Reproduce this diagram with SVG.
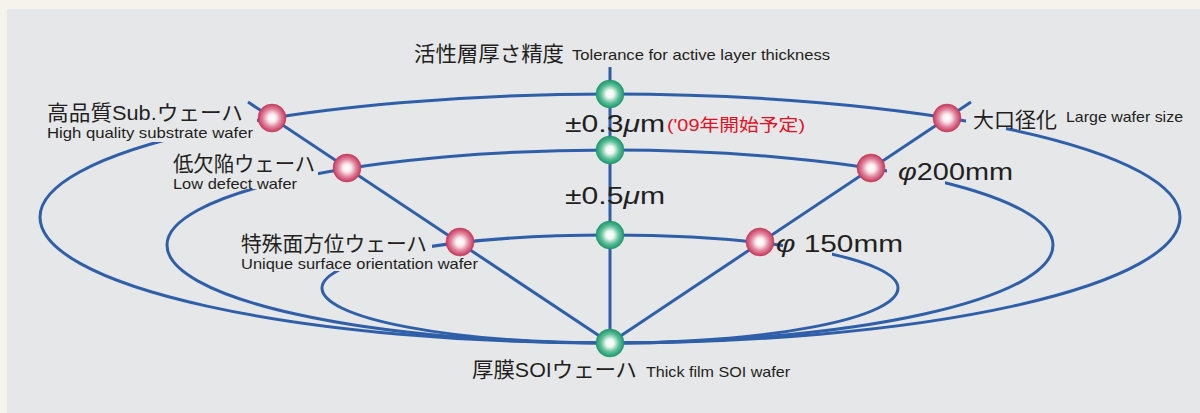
<svg xmlns="http://www.w3.org/2000/svg" width="1200" height="413" viewBox="0 0 1200 413">
<style>
.ln{fill:none;stroke:#2f5fa8;stroke-width:3}
text{font-family:"Liberation Sans","Noto Sans CJK JP",sans-serif;fill:#231f20}
.jp{font-size:21px}
.en{font-size:14.5px}
.big{font-size:24px}
.red{fill:#e60f22;font-size:17px}
.it{font-style:italic}
.rn{fill:url(#gr);stroke:#c4385b;stroke-width:0.5}
.gn{fill:url(#gg);stroke:#1e966c;stroke-width:0.5}
</style>
<defs>
<radialGradient id="gr" cx="0.5" cy="0.5" r="0.5">
<stop offset="0" stop-color="#ffffff"/>
<stop offset="0.28" stop-color="#fbeef2"/>
<stop offset="0.65" stop-color="#e0819b"/>
<stop offset="1" stop-color="#c4385b"/>
</radialGradient>
<radialGradient id="gg" cx="0.5" cy="0.5" r="0.5">
<stop offset="0" stop-color="#ffffff"/>
<stop offset="0.28" stop-color="#eef8f4"/>
<stop offset="0.65" stop-color="#5dbf98"/>
<stop offset="1" stop-color="#1e966c"/>
</radialGradient>
<mask id="gaps" maskUnits="userSpaceOnUse" x="0" y="0" width="1200" height="413">
<rect x="0" y="0" width="1200" height="413" fill="#fff"/>
<rect x="40" y="95" width="217" height="47" fill="#000"/>
<rect x="966" y="95" width="40" height="35" fill="#000"/>
<rect x="170" y="150" width="148" height="39" fill="#000"/>
<rect x="887" y="160" width="58" height="40" fill="#000"/>
<rect x="300" y="225" width="132" height="46" fill="#000"/>
<rect x="783" y="230" width="49" height="35" fill="#000"/>
</mask>
</defs>
<rect x="0" y="0" width="1200" height="413" fill="#f6f3ec"/>
<rect x="7" y="9" width="1193" height="404" fill="#e6e7e9"/>
<g id="connectors">
<g mask="url(#gaps)">
<path class="ln" d="M40,217 A570,123 0 0 1 1180,217 A570,126 0 0 1 40,217 Z"/>
<path class="ln" d="M167,245 A443,95 0 0 1 1053,245 A443,98 0 0 1 167,245 Z"/>
<path class="ln" d="M322,288 A288,53 0 0 1 898,288 A288,55 0 0 1 322,288 Z"/>
</g>
<line class="ln" x1="248" y1="102" x2="610" y2="343"/>
<line class="ln" x1="971" y1="102" x2="610" y2="343"/>
<line class="ln" x1="610" y1="67" x2="610" y2="343"/>
</g>
<g id="tol-title">
<text class="jp" x="414" y="61" textLength="150" lengthAdjust="spacingAndGlyphs">活性層厚さ精度</text>
<text class="en" x="572" y="60" textLength="258" lengthAdjust="spacingAndGlyphs">Tolerance for active layer thickness</text>
</g>
<g id="node-03">
<circle class="gn" cx="610" cy="94" r="14"/>
<text class="big" x="565" y="132" textLength="100" lengthAdjust="spacingAndGlyphs">±0.3<tspan class="it">μ</tspan>m</text>
<text class="red" x="667" y="131" textLength="138" lengthAdjust="spacingAndGlyphs">('09年開始予定)</text>
</g>
<g id="node-05">
<circle class="gn" cx="610" cy="150" r="14"/>
<text class="big" x="565" y="204" textLength="100" lengthAdjust="spacingAndGlyphs">±0.5<tspan class="it">μ</tspan>m</text>
</g>
<g id="node-center3">
<circle class="gn" cx="610" cy="235" r="14"/>
</g>
<g id="node-soi">
<circle class="gn" cx="610" cy="343" r="14"/>
<text class="jp" x="472" y="377" textLength="165" lengthAdjust="spacingAndGlyphs">厚膜SOIウェーハ</text>
<text class="en" x="646" y="377" textLength="144" lengthAdjust="spacingAndGlyphs">Thick film SOI wafer</text>
</g>
<g id="node-hq">
<circle class="rn" cx="272" cy="118" r="14"/>
<text class="jp" x="47" y="120" textLength="196" lengthAdjust="spacingAndGlyphs">高品質Sub.ウェーハ</text>
<text class="en" x="47" y="138" textLength="206" lengthAdjust="spacingAndGlyphs">High quality substrate wafer</text>
</g>
<g id="node-lowdef">
<circle class="rn" cx="347" cy="168" r="14"/>
<text class="jp" x="173" y="171" textLength="142" lengthAdjust="spacingAndGlyphs">低欠陥ウェーハ</text>
<text class="en" x="173" y="189" textLength="124" lengthAdjust="spacingAndGlyphs">Low defect wafer</text>
</g>
<g id="node-unique">
<circle class="rn" cx="460" cy="242" r="14"/>
<text class="jp" x="241" y="251" textLength="186" lengthAdjust="spacingAndGlyphs">特殊面方位ウェーハ</text>
<text class="en" x="241" y="269" textLength="237" lengthAdjust="spacingAndGlyphs">Unique surface orientation wafer</text>
</g>
<g id="node-large">
<circle class="rn" cx="947" cy="118" r="14"/>
<text class="jp" x="973" y="127" textLength="84" lengthAdjust="spacingAndGlyphs">大口径化</text>
<text class="en" x="1066" y="122" textLength="117" lengthAdjust="spacingAndGlyphs">Large wafer size</text>
</g>
<g id="node-200">
<circle class="rn" cx="871" cy="168" r="14"/>
<text class="big" x="898" y="180" textLength="115" lengthAdjust="spacingAndGlyphs"><tspan class="it">φ</tspan>200mm</text>
</g>
<g id="node-150">
<circle class="rn" cx="760" cy="242" r="14"/>
<text class="big" x="776" y="252" textLength="127" lengthAdjust="spacingAndGlyphs"><tspan class="it">φ</tspan> 150mm</text>
</g>
</svg>
